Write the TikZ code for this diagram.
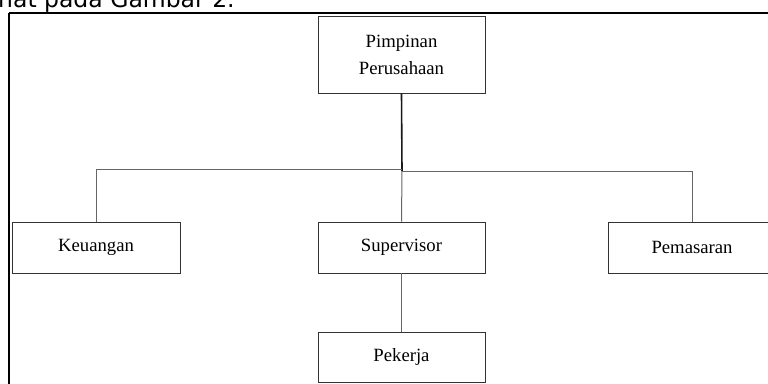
\documentclass[tikz,border=0pt]{standalone}
\usepackage{fontspec}
\setmainfont{Liberation Serif}
\newfontfamily\hdrfont{DejaVu Sans}
\begin{document}
\begin{tikzpicture}[x=1pt,y=-1pt,
  orgbox/.style={draw=black!80,line width=0.9pt,minimum height=51pt,minimum width=167pt,inner sep=0pt,
    font=\fontsize{18.7}{27}\selectfont,align=center},
  conn/.style={draw=black!60,line width=1pt},
  mainconn/.style={draw=black!90,line width=1.6pt}]
\useasboundingbox (0,0) rectangle (768,383);
\clip (0,0) rectangle (768,383);
\node[anchor=base west,inner sep=0pt,font=\hdrfont\fontsize{23.5}{28}\selectfont] (hdr) at (-2,7) {hat pada Gambar 2.};
\draw[line width=2.5pt] (9,13) -- (800,13);
\draw[line width=2.5pt] (9,13) -- (9,400);
\node[orgbox,minimum height=77pt] (top) at (401.5,54.5) {Pimpinan\\Perusahaan};
\node[orgbox,minimum width=168pt] (keu) at (96,247.5) {Keuangan};
\node[orgbox] (sup) at (401.5,247.5) {Supervisor};
\node[orgbox,minimum height=50pt] (pek) at (401.5,357) {Pekerja};
\node[orgbox,minimum width=168pt] (pem) at (692,247.5) {Pemasaran};
\coordinate (jl) at (402,169);
\coordinate (jr) at (402,171);
\draw[mainconn] (top.south) -- (jr);
\draw[conn] (jl) -| (keu.north);
\draw[conn] (jr) -| (pem.north);
\draw[conn] (jr) -- (sup.north);
\draw[conn] (sup.south) -- (pek.north);
\end{tikzpicture}
\end{document}
